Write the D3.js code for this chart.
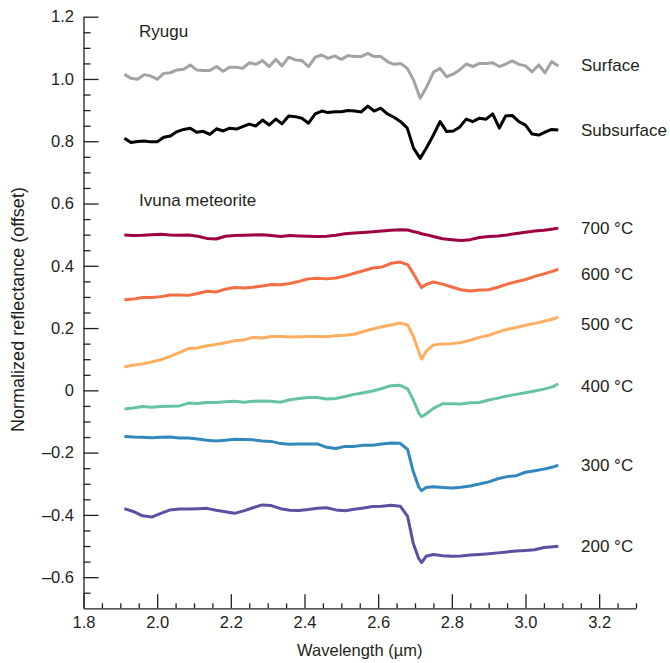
<!DOCTYPE html>
<html>
<head>
<meta charset="utf-8">
<script src="https://cdn.jsdelivr.net/npm/d3@7"></script>
<style>
  html, body { margin: 0; padding: 0; background: #fff; }
  svg { display: block; font-family: "Liberation Sans", Arial, Helvetica, sans-serif; }
</style>
</head>
<body>
<svg id="chart" width="670" height="663"></svg>
<script>
// ---------------- DATA ----------------
const ryuguWavelength = [1.911,1.929,1.947,1.965,1.982,2.000,2.018,2.036,2.054,2.072,2.090,2.107,2.125,2.143,2.161,2.179,2.197,2.215,2.232,2.250,2.268,2.286,2.304,2.322,2.339,2.357,2.375,2.393,2.411,2.429,2.447,2.464,2.482,2.500,2.518,2.536,2.554,2.572,2.589,2.607,2.625,2.643,2.661,2.679,2.696,2.714,2.732,2.750,2.768,2.786,2.804,2.821,2.839,2.857,2.875,2.893,2.911,2.929,2.946,2.964,2.982,3.000,3.018,3.036,3.053,3.071,3.089];
const ryuguSurface = [1.015,1.002,0.999,1.014,1.010,0.999,1.018,1.020,1.029,1.031,1.045,1.029,1.027,1.027,1.040,1.025,1.038,1.038,1.034,1.052,1.047,1.059,1.040,1.063,1.042,1.070,1.061,1.059,1.040,1.070,1.077,1.066,1.074,
  1.063,1.075,1.072,1.072,1.082,1.072,1.072,1.056,1.047,1.050,1.034,0.997,0.938,0.975,1.022,1.034,1.007,1.016,1.029,1.048,1.040,1.050,1.050,1.052,1.040,1.048,1.058,1.047,1.042,1.023,1.045,1.020,1.056,1.042];
const ryuguSubsurface = [0.810,0.796,0.799,0.801,0.798,0.798,0.813,0.817,0.831,0.838,0.842,0.829,0.832,0.822,0.840,0.833,0.842,0.839,0.847,0.855,0.849,0.868,0.852,0.871,0.856,0.881,0.879,0.874,0.858,0.888,0.897,0.892,0.895,
  0.895,0.899,0.897,0.894,0.913,0.897,0.906,0.888,0.877,0.863,0.842,0.778,0.745,0.781,0.820,0.863,0.831,0.833,0.845,0.871,0.863,0.874,0.871,0.888,0.842,0.881,0.883,0.863,0.852,0.823,0.820,0.829,0.838,0.836];

const ivunaWavelength = [1.911,1.935,1.96,1.985,2.01,2.035,2.06,2.085,2.11,2.135,2.16,2.185,2.21,2.235,2.26,2.285,2.31,2.335,2.36,2.385,2.41,2.435,2.46,2.485,2.51,2.535,2.56,2.585,2.61,2.635,2.66,
  2.68,2.695,2.71,2.718,2.73,
  2.75,2.775,2.8,2.825,2.85,2.875,2.9,2.925,2.95,2.975,3.0,3.025,3.05,3.075,3.089];
const ivuna700 = [0.499,0.497,0.498,0.500,0.501,0.499,0.498,0.499,0.495,0.488,0.486,0.495,0.497,0.498,0.499,0.500,0.497,0.494,0.497,0.496,0.495,0.494,0.495,0.498,0.503,0.505,0.507,0.509,0.512,0.514,0.516,
  0.515,0.510,0.506,0.503,0.500,
  0.494,0.487,0.484,0.481,0.484,0.491,0.494,0.496,0.499,0.504,0.508,0.512,0.514,0.518,0.521];
const ivuna600 = [0.291,0.293,0.298,0.298,0.301,0.306,0.306,0.305,0.311,0.318,0.316,0.325,0.330,0.329,0.331,0.335,0.340,0.339,0.343,0.350,0.358,0.360,0.358,0.361,0.367,0.376,0.384,0.393,0.396,0.408,0.412,
  0.404,0.376,0.345,0.330,0.340,
  0.348,0.341,0.332,0.323,0.319,0.322,0.323,0.331,0.341,0.349,0.356,0.366,0.374,0.383,0.389];
const ivuna500 = [0.075,0.081,0.085,0.091,0.098,0.109,0.121,0.134,0.136,0.143,0.147,0.153,0.159,0.162,0.170,0.168,0.173,0.173,0.171,0.172,0.173,0.173,0.172,0.175,0.177,0.180,0.189,0.197,0.204,0.210,0.216,
  0.210,0.175,0.125,0.100,0.125,
  0.146,0.149,0.150,0.154,0.161,0.170,0.177,0.187,0.196,0.202,0.209,0.215,0.222,0.229,0.235];
const ivuna400 = [-0.060,-0.057,-0.052,-0.054,-0.052,-0.051,-0.050,-0.041,-0.042,-0.039,-0.039,-0.037,-0.035,-0.038,-0.035,-0.034,-0.035,-0.038,-0.030,-0.026,-0.023,-0.023,-0.028,-0.026,-0.020,-0.013,-0.008,-0.002,0.006,0.015,0.016,
  0.005,-0.030,-0.072,-0.085,-0.076,
  -0.058,-0.043,-0.043,-0.044,-0.040,-0.039,-0.031,-0.025,-0.018,-0.013,-0.008,-0.002,0.004,0.012,0.021];
const ivuna300 = [-0.148,-0.150,-0.151,-0.152,-0.151,-0.150,-0.153,-0.153,-0.156,-0.160,-0.163,-0.160,-0.157,-0.158,-0.159,-0.163,-0.164,-0.171,-0.173,-0.172,-0.172,-0.172,-0.183,-0.187,-0.180,-0.180,-0.176,-0.176,-0.172,-0.169,-0.170,
  -0.190,-0.260,-0.310,-0.322,-0.312,
  -0.310,-0.312,-0.314,-0.311,-0.307,-0.301,-0.294,-0.284,-0.277,-0.274,-0.263,-0.258,-0.253,-0.246,-0.241];
const ivuna200 = [-0.380,-0.389,-0.403,-0.407,-0.395,-0.384,-0.381,-0.381,-0.380,-0.379,-0.385,-0.390,-0.395,-0.387,-0.377,-0.368,-0.370,-0.380,-0.385,-0.386,-0.383,-0.379,-0.377,-0.384,-0.387,-0.382,-0.378,-0.373,-0.372,-0.369,-0.372,
  -0.405,-0.490,-0.540,-0.553,-0.533,
  -0.527,-0.531,-0.533,-0.532,-0.529,-0.527,-0.525,-0.522,-0.519,-0.516,-0.514,-0.512,-0.505,-0.502,-0.501];

const seriesNames = ["Surface", "Subsurface", "700 °C", "600 °C", "500 °C", "400 °C", "300 °C", "200 °C"];
const groupTitles = ["Ryugu", "Ivuna meteorite"];
const xTickValues = [1.8, 2.0, 2.2, 2.4, 2.6, 2.8, 3.0, 3.2];
const yTickValues = [-0.6, -0.4, -0.2, 0, 0.2, 0.4, 0.6, 0.8, 1.0, 1.2];
const xTitle = "Wavelength (µm)";
const yTitle = "Normalized reflectance (offset)";

// ---------------- LAYOUT / STYLE ----------------
const svg = d3.select("#chart");
const x = d3.scaleLinear().domain([1.8, 3.3]).range([83.5, 636]);
const y = d3.scaleLinear().domain([-0.7, 1.2]).range([608.3, 16.7]);
const ink = "#231f20";

const series = [
  {name: seriesNames[0], xs: ryuguWavelength, ys: ryuguSurface, color: "#a3a3a3", dy: 0},
  {name: seriesNames[1], xs: ryuguWavelength, ys: ryuguSubsurface, color: "#000000", dy: 0},
  {name: seriesNames[2], xs: ivunaWavelength, ys: ivuna700, color: "#9e0142", dy: 0},
  {name: seriesNames[3], xs: ivunaWavelength, ys: ivuna600, color: "#f46d43", dy: 5},
  {name: seriesNames[4], xs: ivunaWavelength, ys: ivuna500, color: "#fdae61", dy: 7},
  {name: seriesNames[5], xs: ivunaWavelength, ys: ivuna400, color: "#66c2a5", dy: 3},
  {name: seriesNames[6], xs: ivunaWavelength, ys: ivuna300, color: "#3288bd", dy: 0},
  {name: seriesNames[7], xs: ivunaWavelength, ys: ivuna200, color: "#5e4fa2", dy: 0}
];

const fmt = v => v === 0 ? "0" : d3.format(".1f")(v).replace("\u2212", "\u2013").replace("-", "\u2013");

// minor ticks
const xMinor = d3.range(1.85, 3.31, 0.05).filter(v => Math.abs(Math.round(v * 5) - v * 5) > 1e-6);
const yMinor = d3.range(-0.65, 1.2, 0.05).filter(v => Math.abs(Math.round(v * 5) - v * 5) > 1e-6);

const gx = svg.append("g").attr("transform", `translate(0,${y.range()[0]})`);
gx.append("g").call(d3.axisBottom(x).tickValues(xMinor).tickSize(-5).tickFormat("")).call(g => g.select(".domain").remove());
gx.append("g").call(d3.axisBottom(x).tickValues(xTickValues).tickSize(-14).tickSizeOuter(0).tickPadding(7.5).tickFormat(d3.format(".1f")));

const gy = svg.append("g").attr("transform", `translate(${x.range()[0]},0)`);
gy.append("g").call(d3.axisLeft(y).tickValues(yMinor).tickSize(-7).tickFormat("")).call(g => g.select(".domain").remove());
gy.append("g").call(d3.axisLeft(y).tickValues(yTickValues).tickSize(-15).tickSizeOuter(0).tickPadding(9.5).tickFormat(fmt));

svg.selectAll(".tick line, .domain").attr("stroke", ink).attr("stroke-width", 1.3);
svg.selectAll(".tick text").attr("fill", ink).style("font-size", "16.5px").style("font-family", "'Liberation Sans', Arial, sans-serif");

// axis titles
svg.append("text").attr("x", (x.range()[0] + x.range()[1]) / 2).attr("y", 656)
  .attr("text-anchor", "middle").attr("fill", ink).style("font-size", "16.5px").text(xTitle);
svg.append("text").attr("transform", `translate(24,${(y.range()[0] + y.range()[1]) / 2 - 3}) rotate(-90)`)
  .attr("text-anchor", "middle").attr("fill", ink).style("font-size", "18px").text(yTitle);

// lines
const line = d3.line().x(d => x(d[0])).y(d => y(d[1]));
series.forEach(s => {
  const pts = s.xs.map((w, i) => [w, s.ys[i]]);
  svg.append("path").datum(pts).attr("d", line)
    .attr("fill", "none").attr("stroke", s.color).attr("stroke-width", 3)
    .attr("stroke-linejoin", "round").attr("stroke-linecap", "butt");
  const last = pts[pts.length - 1];
  svg.append("text").attr("x", 581).attr("y", y(last[1]) + s.dy)
    .attr("dominant-baseline", "central").attr("fill", ink).style("font-size", "17px").text(s.name);
});

// group titles
svg.append("text").attr("x", 139).attr("y", 36.7).attr("fill", ink).style("font-size", "17px").text(groupTitles[0]);
svg.append("text").attr("x", 139).attr("y", 206).attr("fill", ink).style("font-size", "17px").text(groupTitles[1]);
</script>
</body>
</html>
